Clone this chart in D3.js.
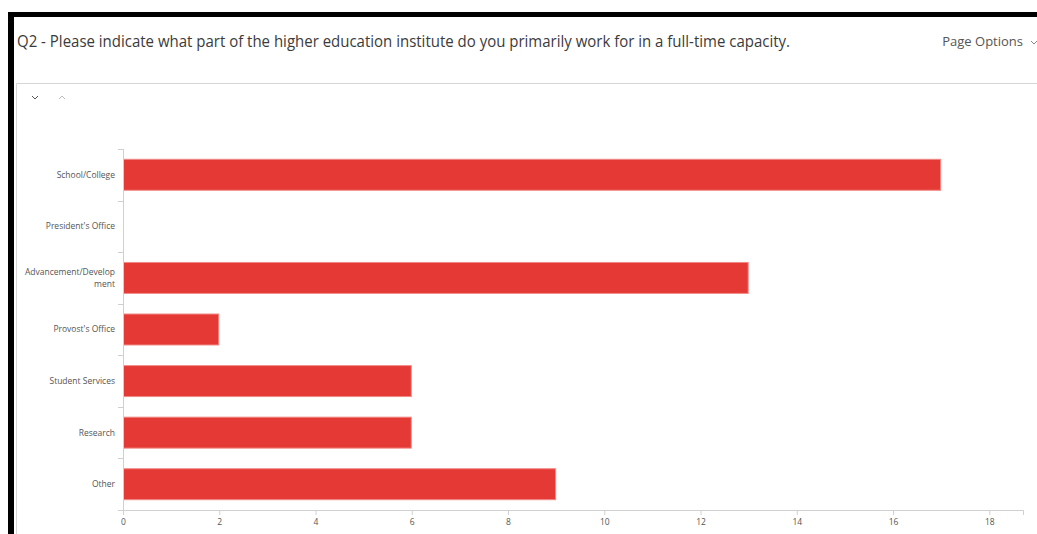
<!DOCTYPE html>
<html lang="en">
  <head>
    <meta charset="utf-8">
    <title>Q2 bar chart</title>
    <script src="https://d3js.org/d3.v7.js"></script>
    <style>
      body { margin: 0; background: #fff; }
      text { font-family: "Open Sans", sans-serif; }
    </style>
  </head>

  <body>

  <script>

// Chart data

  var categories = ["School/College", "President's Office", "Advancement/Development",
                    "Provost's Office", "Student Services", "Research", "Other"];
  var counts = [17, 0, 13, 2, 6, 6, 9];
  var xTicks = [0, 2, 4, 6, 8, 10, 12, 14, 16, 18];

  var title = "Q2 - Please indicate what part of the higher education institute do you primarily work for in a full-time capacity.";

  var w = 1037;
  var h = 534;
  var margin = {top: 149, right: 14, bottom: 24, left: 123};
  var innerWidth = w - margin.left - margin.right;
  var innerHeight = h - margin.top - margin.bottom;

  var svg = d3.select("body")
    .append("svg")
      .attr("width", w)
      .attr("height", h);

  svg.append("rect")
      .attr("width", w)
      .attr("height", h)
      .attr("fill", "#fff");

// Page frame

  svg.append("rect")
      .attr("x", 8).attr("y", 12)
      .attr("width", w - 8).attr("height", 5)
      .attr("fill", "#000");
  svg.append("rect")
      .attr("x", 8).attr("y", 12)
      .attr("width", 6).attr("height", h - 12)
      .attr("fill", "#000");

  svg.append("text")
      .attr("x", 17)
      .attr("y", 47)
      .attr("font-size", 16)
      .attr("fill", "#3b3b3b")
      .attr("textLength", 773)
      .attr("lengthAdjust", "spacingAndGlyphs")
      .text(title);

  svg.append("text")
      .attr("x", 1023)
      .attr("y", 46)
      .attr("text-anchor", "end")
      .attr("font-size", 13)
      .attr("fill", "#555")
      .text("Page Options");

  svg.append("path")
      .attr("d", "M1031,41 l3,3 l3,-3")
      .attr("fill", "none")
      .attr("stroke", "#888");

  // panel border
  svg.append("path")
      .attr("d", `M${w},83.5 H16.5 V${h}`)
      .attr("fill", "none")
      .attr("stroke", "#d6d6d6");

  // collapse / expand chevrons
  svg.append("path")
      .attr("d", "M32,96 l3,3 l3,-3")
      .attr("fill", "none")
      .attr("stroke", "#555");
  svg.append("path")
      .attr("d", "M59,99 l3,-3 l3,3")
      .attr("fill", "none")
      .attr("stroke", "#bbb");

// Scales and axes

  var xScale = d3.scaleLinear()
      .domain([0, 18.7])
      .range([0, innerWidth]);

  var yScale = d3.scaleBand()
      .domain(categories)
      .range([0, innerHeight])
      .paddingInner(0.38)
      .paddingOuter(0.19);

  var plot = svg.append("g")
      .attr("transform", `translate(${margin.left}, ${margin.top})`);

  plot.selectAll("rect.bar")
      .data(categories.map((c, i) => ({c, v: counts[i]})).filter(d => d.v > 0))
    .enter().append("rect")
      .attr("class", "bar")
      .attr("x", 0.5)
      .attr("y", d => yScale(d.c) + 0.5)
      .attr("width", d => xScale(d.v) - 1)
      .attr("height", yScale.bandwidth() - 1)
      .attr("fill", "#e53935")
      .attr("stroke", "#f08a87")
      .attr("stroke-width", 1);

  var xAxis = d3.axisBottom(xScale)
      .tickValues(xTicks)
      .tickSize(5)
      .tickPadding(4);

  var gx = plot.append("g")
      .attr("transform", `translate(0, ${innerHeight})`)
      .call(xAxis);

  gx.select(".domain").attr("stroke", "#d0d0d0");
  gx.selectAll(".tick line").attr("stroke", "#d0d0d0");
  gx.selectAll(".tick text")
      .attr("font-family", "'Open Sans', sans-serif")
      .attr("font-size", 8.5)
      .attr("fill", "#555");

  // y axis: line plus small ticks at band boundaries
  var bounds = d3.range(categories.length + 1).map(i => i * innerHeight / categories.length);

  plot.append("line")
      .attr("x1", 0.5).attr("x2", 0.5)
      .attr("y1", 0).attr("y2", innerHeight)
      .attr("stroke", "#d0d0d0");

  plot.selectAll("line.ytick")
      .data(bounds)
    .enter().append("line")
      .attr("class", "ytick")
      .attr("x1", -5).attr("x2", 0)
      .attr("y1", d => Math.round(d) + 0.5)
      .attr("y2", d => Math.round(d) + 0.5)
      .attr("stroke", "#d0d0d0");

  var labels = plot.selectAll("text.ylab")
      .data(categories)
    .enter().append("text")
      .attr("class", "ylab")
      .attr("x", -8)
      .attr("text-anchor", "end")
      .attr("font-size", 8.5)
      .attr("fill", "#555");

  // break long labels by characters, like the source did
  labels.each(function (d) {
    var el = d3.select(this);
    var lines = [];
    var cur = "";
    for (var ch of d) {
      el.text(cur + ch);
      if (this.getComputedTextLength() > 92 && cur.length) {
        lines.push(cur);
        cur = ch;
      } else {
        cur += ch;
      }
    }
    lines.push(cur);
    el.text(null);
    var mid = yScale(d) + yScale.bandwidth() / 2;
    var lh = 12;
    lines.forEach((ln, i) => {
      el.append("tspan")
          .attr("x", -8)
          .attr("y", mid + (i - (lines.length - 1) / 2) * lh)
          .attr("dy", "0.35em")
          .text(ln);
    });
  });

    </script>

  </body>

</html>
